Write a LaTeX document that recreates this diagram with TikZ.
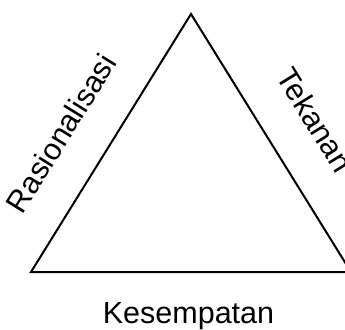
\documentclass[tikz,border=0pt]{standalone}
\usepackage{fontspec}
\setmainfont{Liberation Sans}
\begin{document}
\begin{tikzpicture}[x=1pt,y=1pt,
  side/.style={draw=black,line width=2pt,line join=miter},
  lbl/.style={font=\fontsize{30.5}{32}\selectfont,inner sep=0pt}]
\useasboundingbox (0,0) rectangle (345,-329);
\begin{scope}
\clip (0,0) rectangle (345,-329);
\coordinate (top) at (191,-14);
\coordinate (bl) at (31,-272);
\coordinate (br) at (351,-272);
\draw[side] (top) -- (bl) -- (br) -- cycle;
\node[lbl,rotate=58.2] (rasio) at (61,-133) {Rasionalisasi};
\node[lbl,rotate=-58.2] (tekanan) at (315,-120) {Tekanan};
\node[lbl,anchor=base] (kesempatan) at (188.5,-323) {Kesempatan};
\end{scope}
\end{tikzpicture}
\end{document}
